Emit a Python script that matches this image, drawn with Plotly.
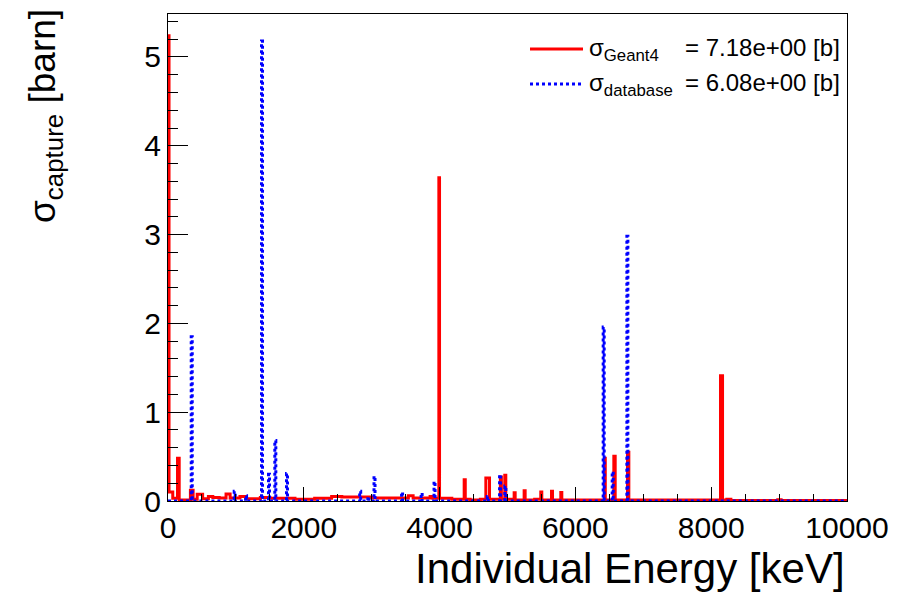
import plotly.graph_objects as go

# ---- data: step-histogram breakpoints (bin low edge in keV, content in barn) ----
red_edges = [0, 15, 70, 140, 165, 330, 370, 430, 510, 595, 660, 755, 855, 915, 1060, 1150,
             1360, 1500, 1870, 2160, 2410, 2560, 3000, 3540, 3610, 3860, 3900, 3989, 3999,
             4180, 4362, 4378, 4450, 4600, 4681, 4735, 4895, 4910, 4960, 4975, 5098, 5113,
             5245, 5260, 5400, 5490, 5505, 5648, 5663, 5785, 5800, 6430, 6440, 6566, 6586,
             6767, 6787, 8137, 8167, 8230, 8290, 8980, 9030, 10000]
red_values = [5.24, 0.10, 0.03, 0.48, 0.01, 0.12, 0.02, 0.075, 0.025, 0.05, 0.04, 0.035, 0.08,
              0.035, 0.05, 0.025, 0.04, 0.03, 0.02, 0.03, 0.05, 0.045, 0.035, 0.06, 0.035,
              0.05, 0.03, 3.64, 0.03, 0.02, 0.24, 0.02, 0.01, 0.02, 0.26, 0.02, 0.27, 0.02,
              0.29, 0.02, 0.094, 0.01, 0.115, 0.01, 0.02, 0.10, 0.01, 0.11, 0.01, 0.095, 0.01,
              0.48, 0.01, 0.505, 0.01, 0.55, 0.01, 1.41, 0.01, 0.02, 0.005, 0.015, 0.005, 0.005]

blue_edges = [0, 342, 357, 975, 990, 1142, 1157, 1377, 1392, 1480, 1495, 1573, 1588, 1745, 1760,
              2823, 2838, 2943, 2958, 3034, 3049, 3440, 3455, 3728, 3743, 3918, 3933, 4703,
              4718, 4883, 4898, 4961, 4976, 6409, 6424, 6542, 6557, 6758, 6773, 10000]
blue_values = [0, 1.85, 0, 0.11, 0, 0.06, 0, 5.18, 0, 0.30, 0, 0.68, 0, 0.31, 0,
               0.11, 0, 0.05, 0, 0.28, 0, 0.10, 0, 0.09, 0, 0.22, 0, 0.05,
               0, 0.30, 0, 0.17, 0, 1.96, 0, 0.33, 0, 2.98, 0, 0]

x_ticks = [0, 2000, 4000, 6000, 8000, 10000]
y_ticks = [0, 1, 2, 3, 4, 5]

legend_symbols = ["σ<sub>Geant4</sub>", "σ<sub>database</sub>"]
legend_values = ["= 7.18e+00 [b]", "= 6.08e+00 [b]"]
series_colors = ["#ff0000", "#0000ff"]
series_dash = ["solid", "dot"]

FONT = "Liberation Sans, Arial, Helvetica, sans-serif"

# pixel -> paper helpers (plot area: x 168..847, y 14..501)
def px(x):
    return (x - 168) / 679.0

def py(y):
    return (501 - y) / 487.0

fig = go.Figure()
fig.add_trace(go.Scatter(
    x=red_edges, y=red_values, mode="lines", line_shape="hv",
    line=dict(color=series_colors[0], width=3, dash=series_dash[0]),
    name="σ Geant4", showlegend=False))
fig.add_trace(go.Scatter(
    x=blue_edges, y=blue_values, mode="lines", line_shape="hv",
    line=dict(color=series_colors[1], width=3, dash=series_dash[1]),
    name="σ database", showlegend=False))

annotations = [
    dict(text="Individual Energy [keV]", xref="paper", yref="paper",
         x=1.0, y=0, xanchor="right", yanchor="top", yshift=-42,
         showarrow=False, font=dict(size=42, family=FONT)),
    dict(text="σ<sub>capture</sub> [barn]", xref="paper", yref="paper",
         x=px(45), y=py(116), xanchor="center", yanchor="middle",
         textangle=-90, showarrow=False, font=dict(size=37, family=FONT)),
]
shapes = []
row_y = [49, 84]
for i in range(2):
    shapes.append(dict(type="line", xref="paper", yref="paper",
                       x0=px(530), x1=px(583), y0=py(row_y[i]), y1=py(row_y[i]),
                       line=dict(color=series_colors[i], width=3, dash=series_dash[i])))
    annotations.append(dict(text=legend_symbols[i], xref="paper", yref="paper",
                            x=px(588), y=py(row_y[i] - 16), xanchor="left", yanchor="top",
                            showarrow=False, font=dict(size=24, family=FONT),
                            borderpad=0))
    annotations.append(dict(text=legend_values[i], xref="paper", yref="paper",
                            x=px(684), y=py(row_y[i] - 16), xanchor="left", yanchor="top",
                            showarrow=False, font=dict(size=24, family=FONT),
                            borderpad=0))

fig.update_layout(
    width=902, height=595,
    margin=dict(l=168, r=55, t=14, b=94),
    paper_bgcolor="white", plot_bgcolor="white",
    font=dict(family=FONT, color="black"),
    showlegend=False,
    xaxis=dict(range=[0, 10000], tickvals=x_ticks, ticktext=[str(v) for v in x_ticks],
               ticks="inside", ticklen=14, tickwidth=1, tickcolor="black",
               minor=dict(dtick=500, ticks="inside", ticklen=7, tickcolor="black"),
               showline=True, linecolor="black", linewidth=1, mirror=True,
               showgrid=False, zeroline=False,
               tickfont=dict(size=30, family=FONT)),
    yaxis=dict(range=[0, 5.484], tickvals=y_ticks, ticktext=[str(v) for v in y_ticks],
               ticks="inside", ticklen=20, tickwidth=1, tickcolor="black",
               minor=dict(dtick=0.2, ticks="inside", ticklen=10, tickcolor="black"),
               showline=True, linecolor="black", linewidth=1, mirror=True,
               showgrid=False, zeroline=False,
               tickfont=dict(size=30, family=FONT)),
    annotations=annotations,
    shapes=shapes,
)

fig.write_html("out.html")
